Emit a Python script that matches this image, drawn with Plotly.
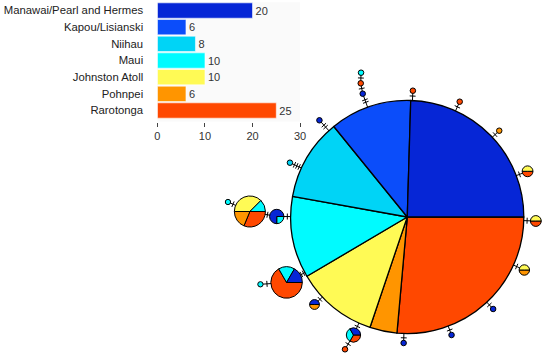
import plotly.graph_objects as go

# ---------------- data ----------------
populations = ["Manawai/Pearl and Hermes", "Kapou/Lisianski", "Niihau", "Maui",
               "Johnston Atoll", "Pohnpei", "Rarotonga"]
sample_sizes = [20, 6, 8, 10, 10, 6, 25]
x_ticks = [0, 10, 20, 30]

# haplotype network: number of individuals of each population per haplotype
haplotypes = ["H1", "A", "B", "C", "D", "E", "F", "G", "H", "I", "J", "K",
              "L", "M", "N", "O", "P", "Q", "R", "S", "T", "U", "W"]
manawai   = [13, 0, 0, 1, 1, 0, 0, 0, 0, 0, 0, 1, 1, 1, 0, 0, 3, 1, 0, 1, 1, 0, 0]
kapou     = [6,  0, 0, 0, 0, 0, 0, 0, 0, 0, 0, 0, 0, 0, 0, 0, 0, 0, 0, 0, 0, 0, 0]
niihau    = [6,  0, 0, 0, 0, 0, 0, 0, 0, 0, 0, 0, 0, 0, 0, 0, 0, 0, 0, 0, 0, 0, 1]
maui      = [6,  1, 0, 0, 0, 0, 0, 0, 0, 0, 0, 0, 0, 0, 2, 1, 1, 1, 1, 0, 1, 0, 0]
johnston  = [6,  0, 0, 0, 0, 0, 0, 0, 1, 1, 1, 0, 0, 0, 6, 0, 0, 0, 0, 0, 0, 0, 0]
pohnpei   = [2,  0, 0, 0, 0, 0, 0, 1, 0, 0, 1, 0, 0, 0, 3, 0, 0, 0, 0, 1, 0, 0, 0]
rarotonga = [14, 0, 1, 0, 0, 1, 1, 0, 1, 1, 0, 0, 0, 0, 5, 0, 0, 4, 0, 0, 1, 1, 0]
counts_by_pop = [manawai, kapou, niihau, maui, johnston, pohnpei, rarotonga]

# network edges (from, to, number of mutation steps)
edge_from  = ["H1", "C", "B", "H1", "H1", "H1", "P", "N", "H1", "Q", "H1", "H1", "T",
              "H1", "H1", "H1", "H1", "H1", "H1", "H1", "H1", "H1"]
edge_to    = ["C", "B", "A", "D", "W", "P", "N", "O", "Q", "R", "S", "T", "U",
              "M", "L", "K", "J", "I", "H", "G", "F", "E"]
edge_steps = [2, 1, 1, 2, 3, 1, 1, 1, 2, 1, 1, 1, 1, 1, 1, 1, 1, 1, 1, 1, 1, 1]

# ---------------- layout / style ----------------
W, H = 550, 356
pop_colors = ["#0626d6", "#0b4dfa", "#00d4f6", "#00fbff", "#fffa55", "#ff9500", "#ff4800"]

# network node layout (pixel positions) and drawn radii
node_x = [411, 364, 363.7, 365.7, 321.7, 416.7, 464.3, 504.5, 533.3, 541.7, 530, 498.3,
          456, 407.3, 251, 228.7, 278.3, 288.3, 261.7, 316.7, 356.3, 347.7, 291.7]
node_y = [217, 72.7, 83.3, 93.7, 120.3, 90.7, 101.7, 130.7, 171.3, 221, 270, 309,
          335, 343, 211.5, 202, 216.5, 282.5, 284.3, 304.5, 335, 349.3, 162.7]
node_r = [118.5, 2.8, 2.8, 2.8, 2.8, 2.8, 2.8, 2.8, 5.5, 5.5, 5.3, 2.8,
          2.8, 2.8, 15.8, 2.7, 7.3, 16, 2.7, 5, 7.3, 2.8, 2.8]

idx = {h: i for i, h in enumerate(haplotypes)}

fig = go.Figure()

# ---- bar chart ----
fig.add_trace(go.Bar(
    x=sample_sizes, y=populations, orientation="h",
    marker=dict(color=pop_colors, line=dict(color="rgba(255,255,255,0.55)", width=1)),
    text=[str(v) for v in sample_sizes], textposition="outside",
    textfont=dict(size=11, color="#333333", family="Liberation Sans, Arial"),
    cliponaxis=False, width=0.92, hoverinfo="skip", showlegend=False,
    xaxis="x", yaxis="y",
))

# ---- network edges and mutation hatches ----
ex, ey, hx, hy = [], [], [], []
for a, b, n in zip(edge_from, edge_to, edge_steps):
    i, j = idx[a], idx[b]
    x0, y0, x1, y1 = node_x[i], node_y[i], node_x[j], node_y[j]
    ex += [x0, x1, None]
    ey += [y0, y1, None]
    dx, dy = x1 - x0, y1 - y0
    d = (dx * dx + dy * dy) ** 0.5
    ux, uy = dx / d, dy / d
    px_, py_ = -uy, ux
    mid = (node_r[i] + d - node_r[j]) / 2
    for k in range(n):
        t = mid + (k - (n - 1) / 2) * 2.6
        cx, cy = x0 + ux * t, y0 + uy * t
        hx += [cx - px_ * 3, cx + px_ * 3, None]
        hy += [cy - py_ * 3, cy + py_ * 3, None]

fig.add_trace(go.Scatter(x=ex, y=ey, mode="lines", line=dict(color="black", width=1),
                         hoverinfo="skip", showlegend=False, xaxis="x2", yaxis="y2"))
fig.add_trace(go.Scatter(x=hx, y=hy, mode="lines", line=dict(color="black", width=1),
                         hoverinfo="skip", showlegend=False, xaxis="x2", yaxis="y2"))

# ---- haplotype pies (populations counter-clockwise from 3 o'clock) ----
for i, h in enumerate(haplotypes):
    vals = [c[i] for c in counts_by_pop]
    pairs = [(v, col, p) for v, col, p in zip(vals, pop_colors, populations) if v > 0][::-1]
    cx, cy, r = node_x[i], node_y[i], node_r[i]
    fig.add_trace(go.Pie(
        values=[p[0] for p in pairs], labels=[p[2] for p in pairs],
        marker=dict(colors=[p[1] for p in pairs],
                    line=dict(color="black", width=1.3 if r > 50 else 1)),
        domain=dict(x=[(cx - r) / W, (cx + r) / W], y=[1 - (cy + r) / H, 1 - (cy - r) / H]),
        sort=False, direction="clockwise", rotation=90, textinfo="none",
        hoverinfo="skip", showlegend=False,
    ))

y_top_px, y_bot_px = 2.2, 121.5
fig.update_layout(
    width=W, height=H, margin=dict(l=0, r=0, t=0, b=0),
    paper_bgcolor="white", plot_bgcolor="rgba(0,0,0,0)",
    font=dict(family="Liberation Sans, Arial", color="#333333"),
    xaxis=dict(domain=[157 / W, 302 / W], range=[0, 30], tickvals=x_ticks,
               ticks="outside", ticklen=4, tickcolor="#444", showgrid=False,
               zeroline=False, showline=False, tickfont=dict(size=11, color="#333"),
               anchor="y", fixedrange=True),
    yaxis=dict(domain=[1 - y_bot_px / H, 1 - y_top_px / H], range=[6.66, -0.5],
               categoryorder="array", categoryarray=populations,
               ticks="outside", ticklen=11, tickcolor="rgba(0,0,0,0)",
               showgrid=False, zeroline=False, showline=False,
               tickfont=dict(size=11.3, color="#222"), anchor="x", fixedrange=True),
    xaxis2=dict(domain=[0, 1], range=[0, W], visible=False, anchor="y2", fixedrange=True),
    yaxis2=dict(domain=[0, 1], range=[H, 0], visible=False, anchor="x2", fixedrange=True),
    shapes=[dict(type="rect", xref="x domain", yref="y domain", x0=0, x1=1, y0=0, y1=1,
                 fillcolor="#fafafa", line=dict(width=0), layer="below")],
)

fig.write_html(
    "out.html", config={"displayModeBar": False},
    post_script=("document.documentElement.style.margin='0px';"
                 "document.body.style.margin='0px';"),
)
